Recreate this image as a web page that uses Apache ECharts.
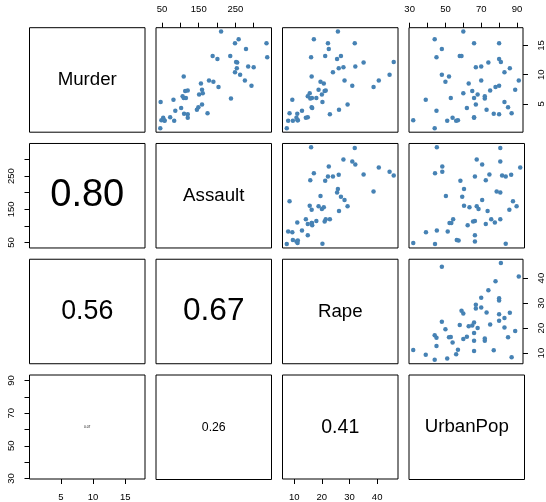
<!DOCTYPE html>
<html>
<head>
<meta charset="utf-8">
<script src="https://cdn.jsdelivr.net/npm/echarts@6/dist/echarts.min.js"></script>
<style>
  html, body { margin: 0; padding: 0; background: #fff; }
  #chart { width: 546px; height: 502px; }
</style>
</head>
<body>
<div id="chart"></div>
<script>
// USArrests: one value per state, same state order in every array
const murder = [13.2, 10.0, 8.1, 8.8, 9.0, 7.9, 3.3, 5.9, 15.4, 17.4, 5.3, 2.6, 10.4, 7.2, 2.2, 6.0, 9.7, 15.4, 2.1, 11.3,
  4.4, 12.1, 2.7, 16.1, 9.0, 6.0, 4.3, 12.2, 2.1, 7.4, 11.4, 11.1, 13.0, 0.8, 7.3, 6.6, 4.9, 6.3, 3.4, 14.4,
  3.8, 13.2, 12.7, 3.2, 2.2, 8.5, 4.0, 5.7, 2.6, 6.8];
const assault = [236, 263, 294, 190, 276, 204, 110, 238, 335, 211, 46, 120, 249, 113, 56, 115, 109, 249, 83, 300,
  149, 255, 72, 259, 178, 109, 102, 252, 57, 159, 285, 254, 337, 45, 120, 151, 159, 106, 174, 279,
  86, 188, 201, 120, 48, 156, 145, 81, 53, 161];
const rape = [21.2, 44.5, 31.0, 19.5, 40.6, 38.7, 11.1, 15.8, 31.9, 25.8, 20.2, 14.2, 24.0, 21.0, 11.3, 18.0, 16.3, 22.2, 7.8, 27.8,
  16.3, 35.1, 14.9, 17.1, 28.2, 16.4, 16.5, 46.0, 9.5, 18.8, 32.1, 26.1, 16.1, 7.3, 21.4, 20.0, 29.3, 14.9, 8.3, 22.5,
  12.8, 26.9, 25.5, 22.9, 11.2, 20.7, 26.2, 9.3, 10.8, 15.6];
const urbanPop = [58, 48, 80, 50, 91, 78, 77, 72, 80, 60, 83, 54, 83, 65, 57, 66, 52, 66, 51, 67,
  85, 74, 66, 44, 70, 53, 62, 81, 56, 89, 70, 86, 45, 44, 75, 68, 67, 72, 87, 48,
  45, 59, 80, 80, 32, 63, 73, 39, 66, 60];

const varNames = ['Murder', 'Assault', 'Rape', 'UrbanPop'];
const tickValues = [[5, 10, 15], [50, 100, 150, 200, 250, 300], [10, 20, 30, 40], [30, 40, 50, 60, 70, 80, 90]];
const tickLabels = [[5, 10, 15], [50, 150, 250], [10, 20, 30, 40], [30, 50, 70, 90]];

const vars = [murder, assault, rape, urbanPop];

// panel layout (pixels)
const PANEL_LEFT = 29.5, PANEL_TOP = 27.7;
const PANEL_W = 115.5, PANEL_H = 104.5;
const STEP_X = 126.5, STEP_Y = 115.77;
const FONT = '"Liberation Sans", Arial, Helvetica, sans-serif';
const POINT_COLOR = '#4682B4';

// axis range padded by 4% on each side
function paddedRange(v) {
  const lo = Math.min(...v), hi = Math.max(...v);
  const pad = (hi - lo) * 0.04;
  return [lo - pad, hi + pad];
}
function pearson(a, b) {
  const n = a.length;
  const ma = a.reduce((s, x) => s + x, 0) / n;
  const mb = b.reduce((s, x) => s + x, 0) / n;
  let sab = 0, saa = 0, sbb = 0;
  for (let k = 0; k < n; k++) {
    const da = a[k] - ma, db = b[k] - mb;
    sab += da * db; saa += da * da; sbb += db * db;
  }
  return sab / Math.sqrt(saa * sbb);
}

const ranges = vars.map(paddedRange);
const grids = [], xAxes = [], yAxes = [], series = [], graphics = [];

for (let i = 0; i < 4; i++) {
  for (let j = 0; j < 4; j++) {
    const g = i * 4 + j;
    const left = PANEL_LEFT + STEP_X * j;
    const top = PANEL_TOP + STEP_Y * i;
    grids.push({
      left: left, top: top, width: PANEL_W, height: PANEL_H,
      show: true, borderColor: '#000', borderWidth: 1, backgroundColor: 'transparent'
    });
    const showX = (i === 0 && j % 2 === 1) || (i === 3 && j % 2 === 0);
    const showY = (j === 0 && i % 2 === 1) || (j === 3 && i % 2 === 0);
    xAxes.push({
      type: 'value', gridIndex: g,
      min: ranges[j][0], max: ranges[j][1],
      position: i === 0 ? 'top' : 'bottom',
      show: showX,
      axisLine: { show: false, onZero: false },
      axisTick: { show: true, inside: false, length: 5, customValues: tickValues[j], lineStyle: { color: '#000', width: 1 } },
      axisLabel: { customValues: tickLabels[j], fontSize: 9.5, color: '#000', margin: 13, fontFamily: FONT },
      splitLine: { show: false }
    });
    yAxes.push({
      type: 'value', gridIndex: g,
      min: ranges[i][0], max: ranges[i][1],
      position: j === 3 ? 'right' : 'left',
      show: showY,
      axisLine: { show: false, onZero: false },
      axisTick: { show: true, inside: false, length: 5, customValues: tickValues[i], lineStyle: { color: '#000', width: 1 } },
      axisLabel: { customValues: tickLabels[i], fontSize: 9.5, color: '#000', margin: 13, rotate: 90, fontFamily: FONT },
      splitLine: { show: false }
    });

    const cx = left + PANEL_W / 2, cy = top + PANEL_H / 2;
    if (j > i) {
      // scatter: x = column variable, y = row variable
      series.push({
        type: 'scatter', xAxisIndex: g, yAxisIndex: g,
        data: vars[j].map((x, k) => [x, vars[i][k]]),
        symbol: 'circle', symbolSize: 4.5,
        itemStyle: { color: POINT_COLOR, opacity: 1 },
        silent: true
      });
    } else if (i === j) {
      graphics.push({
        type: 'text', x: cx, y: cy,
        style: { text: varNames[i], fontSize: 18.7, fontFamily: FONT, fill: '#000', align: 'center', verticalAlign: 'middle' }
      });
    } else {
      // correlation text, sized in proportion to |r|
      const r = Math.abs(pearson(vars[i], vars[j]));
      const txt = r.toFixed(2);
      const size = 0.8 * r * PANEL_W / 1.946;
      graphics.push({
        type: 'text', x: cx, y: cy,
        style: { text: txt, fontSize: size, fontFamily: FONT, fill: '#000', align: 'center', verticalAlign: 'middle' }
      });
    }
  }
}

const chart = echarts.init(document.getElementById('chart'), null, { renderer: 'canvas' });
chart.setOption({
  animation: false,
  backgroundColor: '#fff',
  grid: grids,
  xAxis: xAxes,
  yAxis: yAxes,
  series: series,
  graphic: graphics
});
</script>
</body>
</html>
